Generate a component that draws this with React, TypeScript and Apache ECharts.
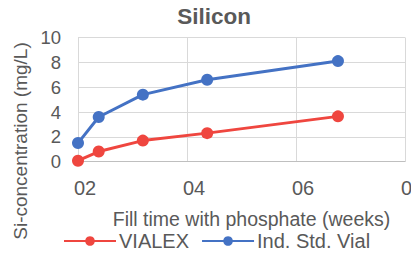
import React, { useEffect, useRef } from "react";
import * as echarts from "echarts";

const weeks = [2.0, 2.38, 3.19, 4.37, 6.77];
const vialex = [0.08, 0.82, 1.7, 2.3, 3.65];
const indStd = [1.5, 3.6, 5.4, 6.6, 8.1];
const seriesNames = ["VIALEX", "Ind. Std. Vial"];
const colors = ["#EF463F", "#4472C4"];

const FONT = "'Liberation Sans', Arial, sans-serif";
const TXT = "#595959";

export default function App() {
  const ref = useRef<HTMLDivElement>(null);
  useEffect(() => {
    if (!ref.current) return;
    const chart = echarts.init(ref.current, undefined, { renderer: "svg" });
    const mk = (ys: number[]) => weeks.map((w, i) => [w, ys[i]]);
    chart.setOption({
      animation: false,
      backgroundColor: "#ffffff",
      textStyle: { fontFamily: FONT, color: TXT },
      title: {
        text: "Silicon",
        left: 214,
        top: 5,
        padding: 0,
        textAlign: "center",
        textStyle: { fontFamily: FONT, fontSize: 22.5, fontWeight: "bold", color: TXT },
      },
      grid: {
        left: 78,
        right: 6,
        top: 37.5,
        bottom: 92.3,
        containLabel: false,
        outerBoundsMode: "none",
      },
      xAxis: {
        type: "value",
        min: 2,
        max: 8,
        interval: 2,
        name: "Fill time with phosphate (weeks)",
        nameLocation: "middle",
        nameGap: 47,
        nameTextStyle: { fontFamily: FONT, fontSize: 19.5, color: TXT, padding: [0, 0, 0, 20] },
        axisLine: { show: true, lineStyle: { color: "#bfbfbf", width: 1 } },
        axisTick: { show: false },
        splitLine: { show: true, lineStyle: { color: "#d9d9d9", width: 1 } },
        axisLabel: {
          formatter: (v: number) => "0" + v,
          align: "left",
          alignMinLabel: "left",
          alignMaxLabel: "left",
          margin: 16,
          padding: [0, 0, 0, -4],
          fontFamily: FONT,
          fontSize: 20,
          color: TXT,
          showMaxLabel: true,
          showMinLabel: true,
          hideOverlap: false,
        },
      },
      yAxis: {
        type: "value",
        min: 0,
        max: 10,
        interval: 2,
        axisLine: { show: false },
        axisTick: { show: false },
        splitLine: { show: true, lineStyle: { color: "#d9d9d9", width: 1 } },
        axisLabel: { margin: 17, fontFamily: FONT, fontSize: 18.5, color: TXT },
      },
      legend: {
        left: 63,
        top: 231,
        padding: 0,
        itemWidth: 52,
        itemHeight: 12,
        itemGap: 12,
        textStyle: { fontFamily: FONT, fontSize: 20, color: TXT, padding: [0, 0, 0, -2] },
        data: seriesNames,
      },
      graphic: [
        {
          type: "text",
          x: 20,
          y: 141,
          rotation: Math.PI / 2,
          style: {
            text: "Si-concentration (mg/L)",
            fontFamily: FONT,
            fontSize: 19,
            fill: TXT,
            align: "center",
            verticalAlign: "middle",
          },
        },
      ],
      series: [
        {
          name: seriesNames[0],
          type: "line",
          data: mk(vialex),
          color: colors[0],
          symbol: "circle",
          symbolSize: 12,
          lineStyle: { width: 3 },
          z: 3,
        },
        {
          name: seriesNames[1],
          type: "line",
          data: mk(indStd),
          color: colors[1],
          symbol: "circle",
          symbolSize: 12,
          lineStyle: { width: 3 },
          z: 2,
        },
      ],
    });
    return () => chart.dispose();
  }, []);
  return <div ref={ref} style={{ width: 411, height: 254, position: "fixed", left: 0, top: 0 }} />;
}
